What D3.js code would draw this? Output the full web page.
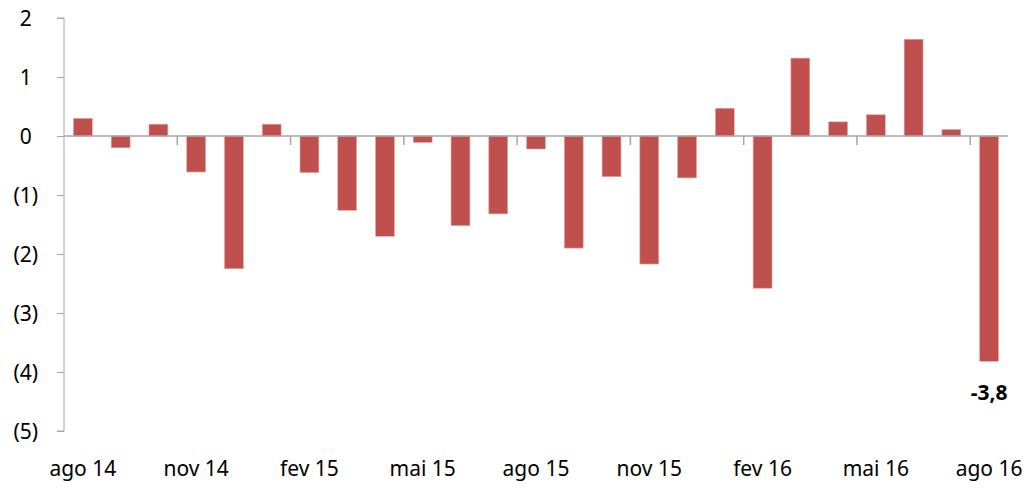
<!DOCTYPE html>
<html>
<head>
<meta charset="utf-8">
<script src="https://cdn.jsdelivr.net/npm/d3@7"></script>
<style>
  body { margin: 0; background: #fff; }
  text { font-family: "Noto Sans", "Open Sans", sans-serif; fill: #000; }
</style>
</head>
<body>
<svg id="chart" width="1029" height="489"></svg>
<script>
const months = ['ago 14', 'set 14', 'out 14', 'nov 14', 'dez 14', 'jan 15', 'fev 15', 'mar 15', 'abr 15',
  'mai 15', 'jun 15', 'jul 15', 'ago 15', 'set 15', 'out 15', 'nov 15', 'dez 15', 'jan 16', 'fev 16',
  'mar 16', 'abr 16', 'mai 16', 'jun 16', 'jul 16', 'ago 16']
const values = [0.30, -0.20, 0.20, -0.61, -2.25, 0.20, -0.62, -1.26, -1.70, -0.11, -1.52, -1.32, -0.22,
  -1.90, -0.69, -2.17, -0.71, 0.47, -2.58, 1.32, 0.24, 0.36, 1.64, 0.11, -3.82]
const yTicks = [2, 1, 0, -1, -2, -3, -4, -5]
const xLabelEvery = 3
const lastLabel = '-3,8'

const svg = d3.select('#chart')
const plot = { left: 64, right: 1008, top: 18, bottom: 431 }
const fontSize = '21px'

const x = d3.scaleBand().domain(months).range([plot.left, plot.right]).paddingInner(0.5).paddingOuter(0.25)
const y = d3.scaleLinear().domain([-5, 2]).range([plot.bottom, plot.top])
const axisColor = '#a6a6a6'

// bars
svg.append('g').selectAll('rect').data(values).enter().append('rect')
  .attr('x', (d, i) => x(months[i]))
  .attr('width', x.bandwidth())
  .attr('y', d => y(Math.max(0, d)))
  .attr('height', d => Math.abs(y(d) - y(0)))
  .attr('fill', '#c0504d')
  .attr('stroke', '#e3a9a7')
  .attr('stroke-width', 0.6)

// y axis
const yAxis = svg.append('g').attr('transform', `translate(${plot.left},0)`)
  .call(d3.axisLeft(y).tickValues(yTicks).tickSize(7).tickFormat(''))
yAxis.select('.domain').attr('stroke', axisColor).attr('d', `M-7,${y(2)}H0V${y(-5)}H-7`)
yAxis.selectAll('.tick line').attr('stroke', axisColor)

// y labels in accounting style: negatives in parentheses, positives padded
const yl = svg.append('g').selectAll('text').data(yTicks).enter().append('text')
  .attr('x', 38)
  .attr('y', d => y(d))
  .attr('dy', '0.36em')
  .attr('text-anchor', 'end')
  .style('font-size', fontSize)
yl.append('tspan').text(d => d < 0 ? `(${-d})` : `${d}`)
yl.filter(d => d >= 0).append('tspan').text(')').attr('fill-opacity', 0)

// x axis at zero
const step = x.step()
const xAxis = svg.append('g')
xAxis.append('line')
  .attr('x1', plot.left).attr('x2', plot.right)
  .attr('y1', y(0)).attr('y2', y(0))
  .attr('stroke', axisColor).attr('stroke-width', 1.5)
xAxis.selectAll('line.tk').data(months.filter((m, i) => i > 0 && i % xLabelEvery === 0)).enter()
  .append('line').attr('class', 'tk')
  .attr('x1', m => x(m) - (step - x.bandwidth()) / 2)
  .attr('x2', m => x(m) - (step - x.bandwidth()) / 2)
  .attr('y1', y(0)).attr('y2', y(0) + 9)
  .attr('stroke', axisColor).attr('stroke-width', 1.5)

// x labels along the bottom
svg.append('g').selectAll('text').data(months.filter((m, i) => i % xLabelEvery === 0)).enter()
  .append('text')
  .attr('x', m => x(m) + x.bandwidth() / 2)
  .attr('y', 476)
  .attr('text-anchor', 'middle')
  .style('font-size', fontSize)
  .text(m => m)

// label of the last bar
const last = months[months.length - 1]
svg.append('text')
  .attr('x', x(last) + x.bandwidth() / 2)
  .attr('y', y(values[values.length - 1]) + 39)
  .attr('text-anchor', 'middle')
  .style('font-size', fontSize)
  .style('font-weight', 'bold')
  .text(lastLabel)
</script>
</body>
</html>
